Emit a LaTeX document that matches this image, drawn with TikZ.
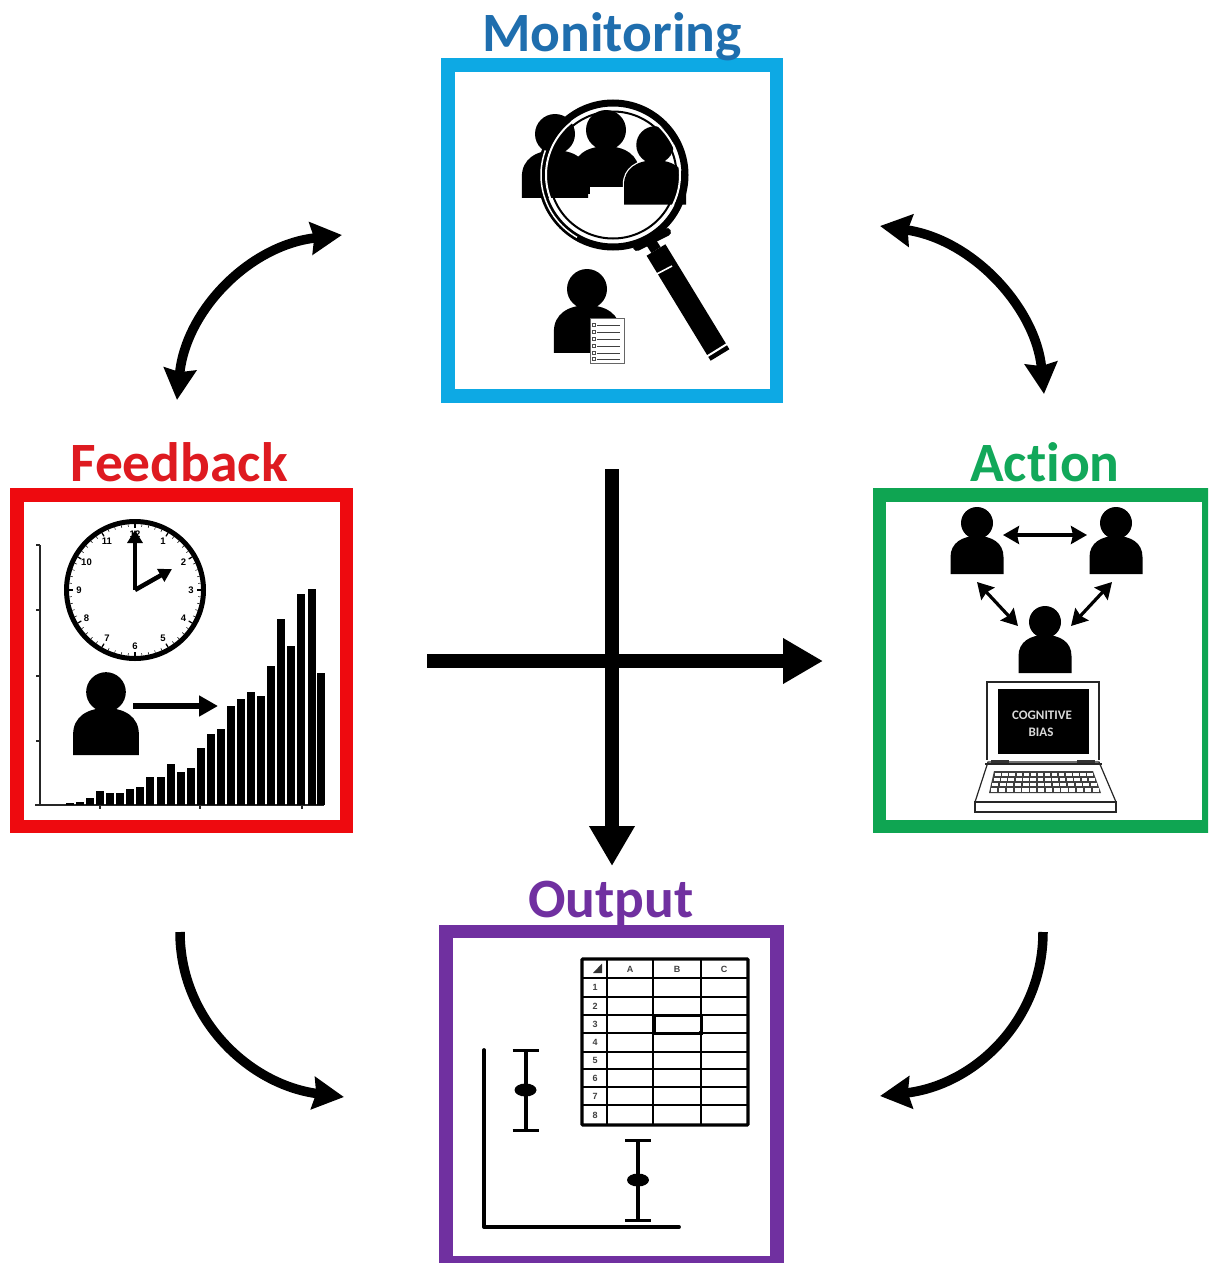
\documentclass[tikz,border=0pt]{standalone}
\usepackage{fontspec}
\setmainfont{Carlito}[RawFeature={-liga}]
\newfontfamily\arialf{Liberation Sans}
\usetikzlibrary{arrows.meta,calc}
\definecolor{monC}{HTML}{0DA9E4}
\definecolor{monT}{HTML}{1F6EAE}
\definecolor{fbC}{HTML}{EE0A0F}
\definecolor{fbT}{HTML}{DE1A20}
\definecolor{acC}{HTML}{0FA552}
\definecolor{acT}{HTML}{12A85A}
\definecolor{ouC}{HTML}{7030A0}
\newcommand\personfig[3]{%
  \begin{scope}[shift={(#1,#2)},scale=#3]
    \fill[black] (0,0) circle (16);
    \fill[black] (-26.5,51) -- (-26.5,34) .. controls (-26.5,20) and (-15,13) .. (0,13)
       .. controls (15,13) and (26.5,20) .. (26.5,34) -- (26.5,51) -- cycle;
  \end{scope}}
\newcommand\personhalo[3]{%
  \begin{scope}[shift={(#1,#2)},scale=#3]
    \draw[white,line width=2.5pt,fill=white] (0,0) circle (16);
    \draw[white,line width=2.5pt,fill=white] (-26.5,51) -- (-26.5,34) .. controls (-26.5,20) and (-15,13) .. (0,13)
       .. controls (15,13) and (26.5,20) .. (26.5,34) -- (26.5,51) -- cycle;
  \end{scope}}
\tikzset{
  x=1pt,y=-1pt,
  framebox/.style={draw=#1,line width=13.5pt,fill=white,inner sep=0pt,rectangle},
  heading/.style={font=\fontsize{55.5}{55.5}\selectfont\bfseries,text=#1,inner sep=0pt,anchor=base},
  bigarrow/.style={line width=14pt,-{Triangle[length=40pt,width=43pt]}},
  curvearrow/.style={line width=9.5pt},
  tipA/.tip={Stealth[length=31pt,width=32pt,inset=3pt]},
  smallarrow/.style={line width=#1,{Stealth[length=16pt,width=18pt,inset=2pt]}-{Stealth[length=16pt,width=18pt,inset=2pt]}},
  tinytext/.style={font=\arialf\bfseries\fontsize{#1}{#1}\selectfont,inner sep=0pt},
}
\begin{document}
\begin{tikzpicture}
\useasboundingbox[fill=white] (0,0) rectangle (1208,1263);

% ---------- frames and headings
\node[framebox=monC,minimum width=328.5pt,minimum height=331pt] (monbox) at (612,230.5) {};
\node[framebox=fbC,minimum width=329.5pt,minimum height=331.5pt] (fbbox) at (181.5,660.5) {};
\begin{scope}
\clip (0,0) rectangle (1208,1263);
\node[framebox=acC,minimum width=329.5pt,minimum height=331.5pt] (acbox) at (1044,660.5) {};
\node[framebox=ouC,minimum width=331pt,minimum height=331pt] (oubox) at (611.5,1097) {};
\end{scope}
\node[heading=monT] (montitle) at (612,51.5) {Monitoring};
\node[heading=fbT] (fbtitle) at (179,481.5) {Feedback};
\node[heading=acT] (actitle) at (1045,481.5) {Action};
\node[heading=ouC] (outitle) at (611,917) {Output};

% ---------- curved arrows
\coordinate (tlA) at (177,400); \coordinate (tlB) at (342,235);
\coordinate (trA) at (880,226); \coordinate (trB) at (1044,394);
\coordinate (blA) at (180,932); \coordinate (blB) at (344,1097);
\coordinate (brA) at (1043,932); \coordinate (brB) at (880,1096);
\draw[curvearrow,{tipA}-{tipA}] (tlA) .. controls (186,310) and (250,245) .. (tlB);
\draw[curvearrow,{tipA}-{tipA}] (trA) .. controls (975,240) and (1036,310) .. (trB);
\draw[curvearrow,-{tipA}] (blA) .. controls (180,1020) and (250,1085) .. (blB);
\draw[curvearrow,-{tipA}] (brA) .. controls (1043,1020) and (975,1085) .. (brB);

% ---------- central cross
\coordinate (hA) at (427,661); \coordinate (hB) at (823,661);
\coordinate (vA) at (612,469); \coordinate (vB) at (612,866);
\draw[bigarrow] (hA) -- (hB);
\draw[bigarrow] (vA) -- (vB);

% ---------- Monitoring: group of people
\personfig{555}{134}{1.25}
\personfig{606}{130}{1.25}
\fill[white] (590,187) rectangle (623,205);
\fill[white] (570,197.5) rectangle (623,205);
\personhalo{655}{145}{1.17}
\personfig{655}{145}{1.17}

% ---------- Monitoring: magnifying glass
\coordinate (lens) at (613,175);
\draw[white,line width=2pt] (lens) circle (67);
\draw[black,line width=7pt] (lens) circle (72);
\draw[black,line width=2pt] (lens) circle (63.5);
\draw[white,line width=1.5pt] (lens) ++(200:72) arc (200:120:72);
\coordinate (handleA) at (649,238); \coordinate (handleB) at (720,355);
\draw[black,line width=11pt] (647,236) -- (656,250);
\draw[black,line width=8pt,line cap=round] (637,247) -- (667,232);
\draw[black,line width=22pt] (656,250) -- (handleB);
\draw[white,line width=1.6pt] (653,276) -- (672,266);
\draw[white,line width=1.2pt] (688,265) -- (722,325);
\draw[white,line width=2pt] (706,357) -- (727,344);

% ---------- Monitoring: person with checklist
\personfig{587}{289}{1.25}
\node[draw=black!60,line width=.8pt,fill=white,minimum width=34pt,minimum height=45pt,inner sep=0pt] (clip) at (607,340.5) {};
\foreach \yy in {325,332,339,346,353,359}{
  \draw[black!75,line width=.8pt] (597,\yy) -- (620,\yy);
  \draw[black!70,line width=.7pt] (592.5,\yy-1.5) rectangle (595.5,\yy+1.5);
}

% ---------- Feedback: bar chart
\draw[black!85,line width=2pt] (40,545) -- (40,805);
\draw[black!85,line width=2.4pt] (35,805) -- (324,805);
\foreach \yy in {545,610,676,741}{\draw[black!85,line width=1.6pt] (36,\yy) -- (40,\yy);}
\foreach \xx in {100,200,302}{\draw[black!85,line width=1.6pt] (\xx,805) -- (\xx,809);}
\foreach \c/\t in {210/970,240/965,270/955,300/932,330/938,360/938,390/928,420/922,450/890,482/890,512/852,542/875,572/863,602/803,632/763,662/747,692/678,722/657,753/637,783/647,813/557,843/418,873/497,903/342,935/328,962/578}{
  \fill[black] ({\c/3-4},{480+\t/3}) rectangle ({\c/3+4},805);
}

% ---------- Feedback: clock
\coordinate (clock) at (135,590);
\fill[white] (clock) circle (71);
\draw[black,line width=5pt] (clock) circle (68.5);
\foreach \a in {0,6,...,354}{
  \draw[black,line width=.5pt] ($(clock)+(\a:66)$) -- ($(clock)+(\a:63.5)$);
}
\foreach \a in {0,30,...,330}{
  \draw[black,line width=1.2pt] ($(clock)+(\a:66)$) -- ($(clock)+(\a:62)$);
}
\foreach \n/\a in {12/-90,1/-60,2/-30,3/0,4/30,5/60,6/90,7/120,8/150,9/180,10/210,11/240}{
  \node[tinytext=9.5] (num\n) at ($(clock)+(\a:56)$) {\n};
}
\coordinate (minute) at (135,530); \coordinate (hour) at (172,569);
\draw[black,line width=4.5pt,-{Triangle[length=13pt,width=15pt]}] (clock) -- (minute);
\draw[black,line width=4.5pt,-{Triangle[length=13pt,width=14pt]}] (clock) -- (hour);

% ---------- Feedback: person and arrow
\personfig{106}{692}{1.24}
\coordinate (fbA) at (133,706); \coordinate (fbB) at (218,706);
\draw[black,line width=5.5pt,-{Triangle[length=19pt,width=20pt]}] (fbA) -- (fbB);

% ---------- Action: people and arrows
\personfig{977}{523}{1}
\personfig{1116}{523}{1}
\personfig{1045}{622}{1}
\coordinate (a1) at (1003,535); \coordinate (a2) at (1087,535);
\coordinate (a3) at (977,582); \coordinate (a4) at (1018,626);
\coordinate (a5) at (1112,582); \coordinate (a6) at (1071,626);
\draw[black,smallarrow=3.2pt] (a1) -- (a2);
\draw[black,smallarrow=3.2pt] (a3) -- (a4);
\draw[black,smallarrow=3.2pt] (a5) -- (a6);

% ---------- Action: laptop
\draw[black!85,line width=1.2pt,fill=white] (987,760) -- (987,682) -- (1099,682) -- (1099,760);
\node[fill=black,minimum width=91pt,minimum height=65pt,inner sep=0pt] (screen) at (1043.5,721.5) {};
\node[font=\fontsize{13}{13}\selectfont\bfseries,text=white!85!black,inner sep=0pt] (cog) at (1042,715) {COGNITIVE};
\node[font=\fontsize{13}{13}\selectfont\bfseries,text=white!85!black,inner sep=0pt] (bias) at (1041,732) {BIAS};
\draw[black!85,line width=1.2pt,fill=white] (988,762) -- (1099,762) -- (1116,802) -- (975,802) -- cycle;
\draw[black!85,line width=1.2pt] (975,802) rectangle (1116,812);
\draw[black!85,line width=1.2pt] (985,764) -- (1102,764);
\fill[black!80] (991,759.5) rectangle (1009,763);
\fill[black!80] (1077,759.5) rectangle (1095,763);
\fill[black!75] (994,771) -- (1093,771) -- (1101,793) -- (989,793) -- cycle;
\foreach \r/\yt/\yb/\xl/\xr in {0/772.5/776/994.5/1093.5, 1/777.5/781/993/1095.5, 2/782.5/786/991.5/1097.5, 3/787.5/791.5/990.5/1099.5}{
  \foreach \k in {0,...,13}{
    \fill[white] ({\xl+\k*(\xr-\xl)/14+.8},\yt) rectangle ({\xl+(\k+1)*(\xr-\xl)/14-.8},\yb);
  }
}

% ---------- Output: table
\foreach \xx in {607,653,701}{\draw[black,line width=2pt] (\xx,959) -- (\xx,1125);}
\foreach \yy in {978,997,1015,1033,1052,1069,1087,1105}{\draw[black,line width=2pt] (582,\yy) -- (748,\yy);}
\draw[black,line width=3.4pt,rounded corners=1pt] (582,959) rectangle (748,1125);
\draw[black,line width=3pt] (654,1015) rectangle (701,1033);
\fill[black] (701,1033) circle (2.4);
\fill[black!80] (602,963.5) -- (602,973) -- (593,973) -- cycle;
\foreach \n/\xx in {A/630,B/677,C/724}{\node[tinytext=9,text=black!75] (col\n) at (\xx,969) {\n};}
\foreach \n/\yy in {1/987.5,2/1006,3/1024,4/1042.5,5/1060.5,6/1078,7/1096,8/1115}{\node[tinytext=9,text=black!75] (row\n) at (595,\yy) {\n};}

% ---------- Output: plot
\draw[black,line width=3.8pt,line cap=round,line join=round] (484,1050) -- (484,1227) -- (679,1227);
\foreach \xx/\yt/\yd/\yb in {525.5/1050/1090/1130, 638/1140/1180/1220}{
  \draw[black,line width=4pt] (\xx,\yt) -- (\xx,\yb);
  \draw[black,line width=3pt] (\xx-13,\yt) -- (\xx+13,\yt);
  \draw[black,line width=3pt] (\xx-13,\yb) -- (\xx+13,\yb);
  \fill[black] (\xx,\yd) ellipse (11 and 6.5);
}
\end{tikzpicture}
\end{document}
